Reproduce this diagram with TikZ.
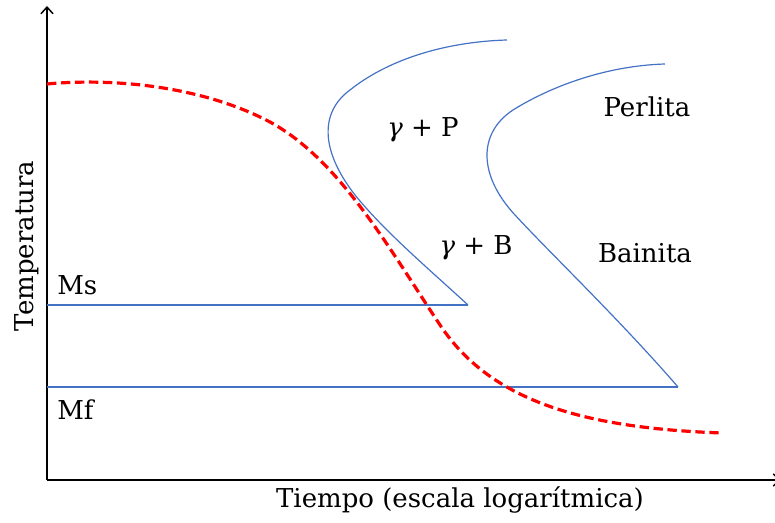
\documentclass[tikz,border=0pt]{standalone}
\usepackage{fontspec}
\setmainfont{DejaVu Serif}
\usepackage{tikz}
\usetikzlibrary{arrows.meta}
\usetikzlibrary{positioning}
\definecolor{cblue}{RGB}{68, 114, 196}
\definecolor{cred}{RGB}{255, 0, 0}

\begin{document}
\begin{tikzpicture}[x=0.75pt, y=-0.75pt,
  every node/.style={inner sep=0pt, font=\fontsize{19.5}{23}\selectfont},
  axis/.style={line width=1.1pt, color=black},
  nose/.style={line width=0.9pt, color=cblue},
  cooling/.style={line width=2.4pt, color=cred, dash pattern=on 7pt off 3.5pt}]
\useasboundingbox (0,0) rectangle (775,523);
\coordinate (o) at (47, 480);
\coordinate (ytop) at (47, 6);
\coordinate (xend) at (781, 480);
\coordinate (ms0) at (47, 305);
\coordinate (ms1) at (468, 305);
\coordinate (mf0) at (47, 387);
\coordinate (mf1) at (678, 387);
\draw [axis, -{Straight Barb[length=5pt, width=9pt]}] (o) to (ytop);
\draw [axis, -{Straight Barb[length=5pt, width=9pt]}] (o) to (xend);
\draw [nose] (ms0) to (ms1);
\draw [nose] (mf0) to (mf1);
% curva de la perlita
\draw [nose] (507,40) .. controls (440,42) and (385,62) .. (350,90)
  .. controls (320,112) and (320,150) .. (355,195)
  .. controls (385,232) and (430,270) .. (ms1);
% curva de la bainita
\draw [nose] (665,64) .. controls (600,66) and (545,90) .. (513,110)
  .. controls (478,133) and (478,175) .. (515,215)
  .. controls (552,255) and (620,320) .. (mf1);
% enfriamiento
\draw [cooling] (47,84) .. controls (110,78) and (200,85) .. (270,122)
  .. controls (340,160) and (390,250) .. (440,325)
  .. controls (490,400) and (580,428) .. (722,433);
\node (ms) [anchor=west] at (57, 285) {Ms};
\node (mf) [anchor=west] at (57, 410) {Mf};
\node (gp) at (423, 130) {\textit{γ} + P};
\node (gb) at (476, 248) {\textit{γ} + B};
\node (perlita) at (647, 107) {Perlita};
\node (bainita) at (645, 253) {Bainita};
\node (temp) [rotate=90] at (27, 246) {Temperatura};
\node (tiempo) at (460, 500) {Tiempo (escala logarítmica)};
\end{tikzpicture}
\end{document}
